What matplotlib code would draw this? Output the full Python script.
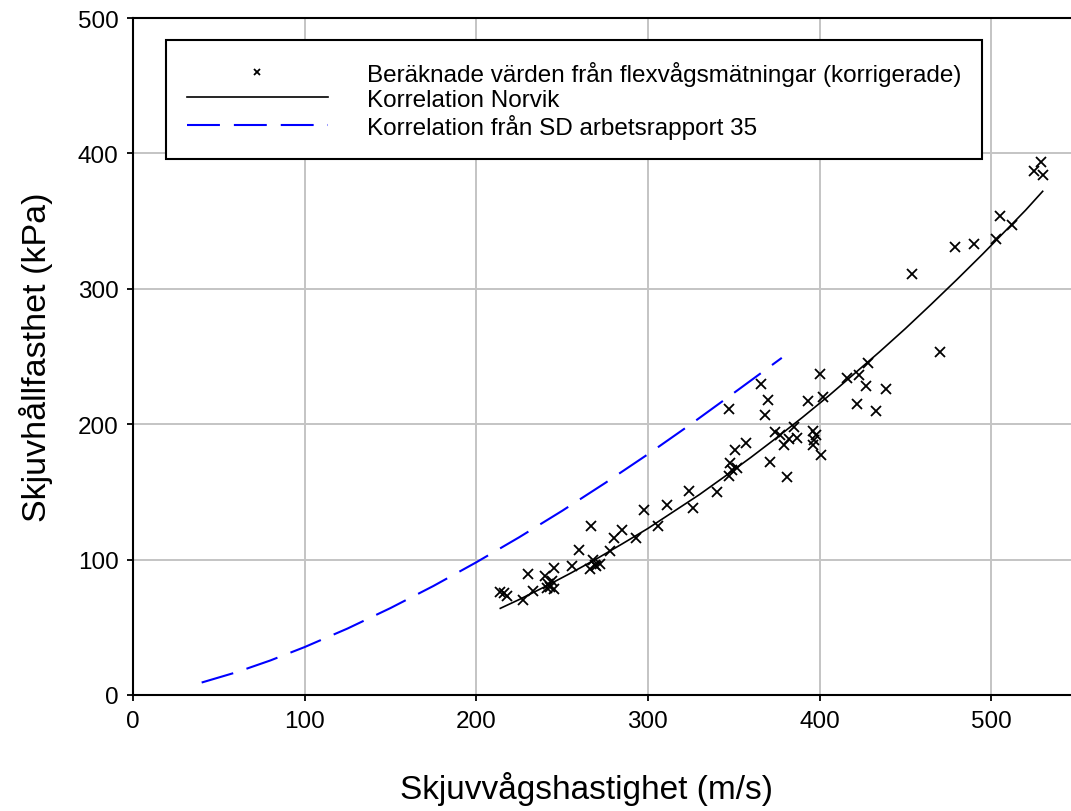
import numpy as np
import matplotlib
matplotlib.use('Agg')
import matplotlib.pyplot as plt

plt.rcParams['font.family'] = ['Liberation Sans', 'DejaVu Sans']

# measured points (shear wave velocity m/s, shear strength kPa)
vs_meas = [214, 216, 218, 227, 230, 233, 240, 241, 242, 243, 244, 245, 245,
           256, 260, 266, 267, 268, 269, 270, 272, 278, 280, 285, 293, 298,
           306, 311, 324, 326, 340, 347, 347, 348, 349, 351, 352, 357, 366,
           368, 370, 371, 374, 377, 379, 381, 382, 385, 387, 393, 396, 396,
           397, 398, 400, 401, 402, 416, 422, 423, 427, 428, 433, 439, 454,
           470, 479, 490, 503, 505, 512, 525, 529, 530]
tau_meas = [76, 75, 73, 70, 89, 77, 88, 79, 82, 80, 84, 94, 78,
            95, 107, 93, 125, 100, 96, 95, 97, 106, 116, 122, 116, 137,
            125, 140, 151, 138, 150, 211, 162, 171, 166, 181, 168, 186, 230,
            207, 218, 172, 194, 192, 185, 161, 189, 198, 190, 217, 195, 185,
            188, 192, 237, 177, 220, 234, 215, 236, 228, 245, 210, 226, 311,
            253, 331, 333, 337, 354, 347, 387, 394, 384]

# Korrelation Norvik
vs_norvik = [214, 225, 240, 255, 270, 285, 300, 315, 330, 345, 360, 375,
             390, 405, 420, 435, 450, 465, 480, 495, 510, 520, 530]
tau_norvik = [64, 70.5, 80, 90, 100.5, 111.6, 123, 135.5, 148, 161.6, 175.5,
              190, 205, 220.6, 237, 253.5, 270.6, 288.5, 306.8, 325.6, 345,
              358, 372]

# Korrelation SD arbetsrapport 35
vs_sd = [40, 60, 80, 100, 125, 150, 175, 200, 225, 250, 275, 300, 325, 350, 378]
tau_sd = [9.2, 16.7, 25.5, 35.4, 49.1, 64.2, 80.5, 98, 116.5, 136, 156.5,
          177.8, 200, 223, 249]

labels = ['Beräknade värden från flexvågsmätningar (korrigerade)',
          'Korrelation Norvik',
          'Korrelation från SD arbetsrapport 35']

W, H = 1071, 812
fig = plt.figure(figsize=(W / 100, H / 100), dpi=100)
ax = fig.add_axes([133 / W, 1 - 696 / H, 944 / W, 677 / H])

ax.plot(vs_meas, tau_meas, linestyle='none', marker='x', ms=7, mew=1.3,
        color='black', label=labels[0], zorder=4)
ax.plot(vs_norvik, tau_norvik, color='black', lw=1.2, label=labels[1], zorder=3)
ax.plot(vs_sd, tau_sd, color='#0000ff', lw=1.5, dashes=(15.8, 6.7),
        label=labels[2], zorder=3)

ax.set_xlim(0, 550)
ax.set_ylim(0, 500)
ax.set_xticks([0, 100, 200, 300, 400, 500])
ax.set_yticks([0, 100, 200, 300, 400, 500])
ax.grid(True, color='#c4c4c4', lw=1.4)
ax.set_axisbelow(True)
for s in ['left', 'bottom', 'top', 'right']:
    ax.spines[s].set_linewidth(1.5)
    ax.spines[s].set_color('black')
ax.tick_params(direction='out', length=4.5, width=1.3, labelsize=17.5, pad=6)

ax.set_xlabel('Skjuvvågshastighet (m/s)', fontsize=24)
ax.set_ylabel('Skjuvhållfasthet (kPa)', fontsize=24.5)
ax.xaxis.set_label_coords((587 - 133) / 944, (696 - 772) / 677)
ax.yaxis.set_label_coords((53 - 133) / 944, 0.5)

leg = ax.legend(loc='upper left', bbox_to_anchor=(166 / W, 1 - 41 / H),
                bbox_transform=fig.transFigure, borderaxespad=0,
                fontsize=17.5, borderpad=0.85, handlelength=5.8,
                handletextpad=1.6, labelspacing=0.12, numpoints=1,
                markerscale=0.7, fancybox=False, framealpha=1,
                edgecolor='black')
leg.get_frame().set_linewidth(1.5)

fig.savefig('out.png', dpi=100, facecolor='white')
